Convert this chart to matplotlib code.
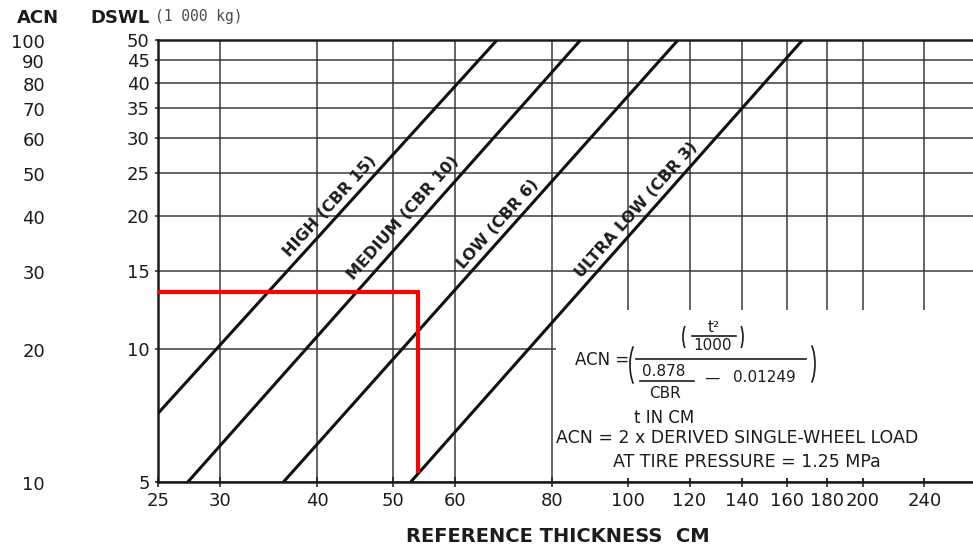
import numpy as np
import matplotlib
matplotlib.use("Agg")
import matplotlib.pyplot as plt
from matplotlib import transforms
from matplotlib.patches import Arc, Rectangle

# --- data ---------------------------------------------------------------
curve_names = ["HIGH (CBR 15)", "MEDIUM (CBR 10)", "LOW (CBR 6)", "ULTRA LOW (CBR 3)"]
t_start = [25.0, 27.3, 36.2, 52.7]        # thickness (cm) at lower end of each line
dswl_start = [7.15, 5.0, 5.0, 5.0]         # DSWL (1000 kg) at lower end
t_end = [68.0, 87.0, 116.0, 167.5]         # thickness at upper end
dswl_end = [50.0, 50.0, 50.0, 50.0]
label_t = [42.6, 53.2, 70.0, 105.3]        # thickness where each curve label sits

x_ticks = [25, 30, 40, 50, 60, 80, 100, 120, 140, 160, 180, 200, 240]
y_ticks = [5, 10, 15, 20, 25, 30, 35, 40, 45, 50]
acn_ticks = [10, 20, 30, 40, 50, 60, 70, 80, 90, 100]

example_t = 53.9        # example thickness (cm)
example_dswl = 13.46    # example DSWL
example_end = 5.24      # where the vertical guide stops

# --- figure -------------------------------------------------------------
W, H = 973, 547
fig = plt.figure(figsize=(W / 100, H / 100), dpi=100)
fig.patch.set_facecolor("white")
ink = "#1c1c1c"
grid_c = "#3a3a3a"

ax = fig.add_axes([158 / W, 65 / H, (W - 158) / W, 442 / H])
ax.set_xscale("log")
ax.set_yscale("log")
ax.set_xlim(25, 277)
ax.set_ylim(5, 50)
ax.set_axisbelow(True)

ax.xaxis.set_major_locator(matplotlib.ticker.FixedLocator(x_ticks))
ax.xaxis.set_major_formatter(matplotlib.ticker.FixedFormatter([str(v) for v in x_ticks]))
ax.xaxis.set_minor_locator(matplotlib.ticker.NullLocator())
ax.yaxis.set_major_locator(matplotlib.ticker.FixedLocator(y_ticks))
ax.yaxis.set_major_formatter(matplotlib.ticker.FixedFormatter([str(v) for v in y_ticks]))
ax.yaxis.set_minor_locator(matplotlib.ticker.NullLocator())

ax.grid(True, which="major", color=grid_c, lw=1.1)
ax.tick_params(axis="x", direction="inout", length=7, width=1.1, pad=4,
               labelsize=13, colors=ink)
ax.tick_params(axis="y", direction="out", length=2, width=1.1, pad=4,
               labelsize=13, colors=ink)
for s in ("left", "bottom", "top"):
    ax.spines[s].set_linewidth(1.8)
    ax.spines[s].set_color(ink)
ax.spines["right"].set_visible(False)

# white panel behind the formula block (starts just right of the 80 cm line)
ax.add_patch(Rectangle((0.488, 0.010), 0.53, 0.379, transform=ax.transAxes,
                       facecolor="white", edgecolor="none", zorder=1,
                       clip_on=False))

# CBR lines
fig.canvas.draw()
label_offsets = [8.5, 10.0, 8.5, 8.5]
for name, t0, d0, t1, d1, lt, off in zip(curve_names, t_start, dswl_start,
                                          t_end, dswl_end, label_t, label_offsets):
    ax.plot([t0, t1], [d0, d1], color="#111111", lw=2.2, zorder=3,
            solid_capstyle="butt")
    p0 = ax.transData.transform((t0, d0))
    p1 = ax.transData.transform((t1, d1))
    ang = np.degrees(np.arctan2(p1[1] - p0[1], p1[0] - p0[0]))
    frac = np.log(lt / t0) / np.log(t1 / t0)
    ld = d0 * (d1 / d0) ** frac
    nx, ny = -np.sin(np.radians(ang)), np.cos(np.radians(ang))
    ax.annotate(name, xy=(lt, ld), xytext=(nx * off, ny * off),
                textcoords="offset points", rotation=ang,
                rotation_mode="anchor", ha="center", va="center",
                fontsize=11.5, fontweight="bold", color=ink, zorder=4)

# worked example guide
ax.plot([25, example_t, example_t], [example_dswl, example_dswl, example_end],
        color="#ff0000", lw=3, zorder=5, solid_joinstyle="miter",
        solid_capstyle="butt")

# ACN scale on the far left (ACN = 2 x DSWL)
blend = transforms.blended_transform_factory(fig.transFigure, ax.transData)
shift = transforms.ScaledTranslation(0, -3 / 100, fig.dpi_scale_trans)
for a in acn_ticks:
    fig.text(45 / W, a / 2, str(a), transform=blend + shift, ha="right",
             va="center", fontsize=13, color=ink)

# overlay in pixel coordinates for headings and formula
ov = fig.add_axes([0, 0, 1, 1], facecolor="none")
ov.set_xlim(0, W)
ov.set_ylim(H, 0)
ov.axis("off")

ov.text(38, 18, "ACN", ha="center", va="center", fontsize=13,
        fontweight="bold", color=ink)
ov.text(120, 18, "DSWL", ha="center", va="center", fontsize=13,
        fontweight="bold", color=ink)
ov.text(155, 17, "(1 000 kg)", ha="left", va="center", fontsize=10.5,
        family="DejaVu Sans Mono", color="#4a4a4a")

ov.text(558, 537, "REFERENCE THICKNESS  CM", ha="center", va="center",
        fontsize=14, fontweight="bold", color=ink)

# formula
fs = 11
lw_f = 1.2
ov.text(575, 360, "ACN =", ha="left", va="center", fontsize=12, color=ink)
ov.add_patch(Arc((642, 365), 24, 54, theta1=115, theta2=245, color=ink, lw=lw_f))
ov.add_patch(Arc((803, 364), 24, 54, theta1=-65, theta2=65, color=ink, lw=lw_f))
ov.add_patch(Arc((690, 337), 14, 32, theta1=115, theta2=245, color=ink, lw=lw_f))
ov.add_patch(Arc((736, 337), 14, 32, theta1=-65, theta2=65, color=ink, lw=lw_f))
ov.text(714, 327, "t²", ha="center", va="center", fontsize=11, color=ink)
ov.plot([692, 736], [336, 336], color=ink, lw=lw_f)
ov.text(713, 346, "1000", ha="center", va="center", fontsize=fs, color=ink)
ov.plot([636, 806], [359, 359], color=ink, lw=lw_f)
ov.text(664, 371, "0.878", ha="center", va="center", fontsize=fs, color=ink)
ov.plot([640, 694], [381, 381], color=ink, lw=lw_f)
ov.text(665, 393, "CBR", ha="center", va="center", fontsize=fs, color=ink)
ov.text(712, 378, "—", ha="center", va="center", fontsize=fs, color=ink)
ov.text(764, 378, "0.01249", ha="center", va="center", fontsize=fs, color=ink)
ov.text(664, 418, "t IN CM", ha="center", va="center", fontsize=12, color=ink)
ov.text(737, 438, "ACN = 2 x DERIVED SINGLE-WHEEL LOAD", ha="center",
        va="center", fontsize=12.5, color=ink)
ov.text(747, 462, "AT TIRE PRESSURE = 1.25 MPa", ha="center", va="center",
        fontsize=12.5, color=ink)

fig.savefig("out.png", dpi=100, facecolor="white")
